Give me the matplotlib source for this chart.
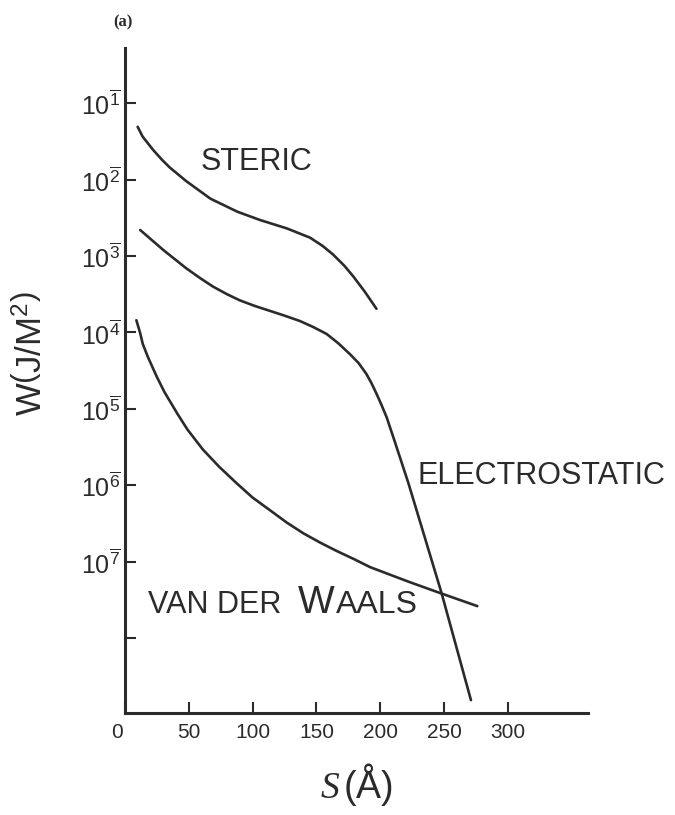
import matplotlib
matplotlib.use("Agg")
import matplotlib.pyplot as plt
import numpy as np

# values: separation S (angstrom) and log10 W (J/m^2)
steric_s = [10, 14, 22, 29, 35, 48, 67, 88, 106, 127, 145, 155, 163, 172, 179, 188, 197]
steric_logw = [-1.31, -1.44, -1.61, -1.74, -1.84, -2.02, -2.25, -2.42, -2.53, -2.64,
               -2.76, -2.87, -2.98, -3.13, -3.27, -3.47, -3.69]

electro_s = [12, 30, 48, 59, 69, 80, 90, 102, 114, 125, 137, 147, 158, 167, 176, 183,
             189, 193, 197, 201, 205, 211, 222, 248, 271]
electro_logw = [-2.66, -2.92, -3.16, -3.29, -3.40, -3.50, -3.58, -3.655, -3.72, -3.78,
                -3.85, -3.925, -4.02, -4.14, -4.28, -4.40, -4.54, -4.66, -4.80, -4.95,
                -5.11, -5.41, -5.97, -7.41, -8.81]

vdw_s = [9, 12, 14, 18, 25, 31, 41, 49, 61, 74, 88, 100, 114, 127, 140, 153, 166, 180,
         192, 222, 247, 276]
vdw_logw = [-3.84, -4.01, -4.15, -4.32, -4.58, -4.78, -5.06, -5.27, -5.53, -5.76, -5.98,
            -6.16, -6.33, -6.49, -6.63, -6.75, -6.86, -6.97, -7.07, -7.26, -7.41, -7.58]

x_ticks = [0, 50, 100, 150, 200, 250, 300]
y_exponents = [1, 2, 3, 4, 5, 6, 7, 8]
y_labels = ["1", "2", "3", "4", "5", "6", "7", ""]

ink = "#2b2b2b"

plt.rcParams["font.family"] = ["Liberation Sans", "DejaVu Sans"]
plt.rcParams["mathtext.fontset"] = "custom"
plt.rcParams["mathtext.rm"] = "Liberation Sans"
plt.rcParams["mathtext.it"] = "Liberation Serif:italic"

fig = plt.figure(figsize=(6.75, 8.15), dpi=100)
ax = fig.add_axes([0.185, 0.125, 0.686, 0.816])

for s, lw in [(steric_s, steric_logw), (electro_s, electro_logw), (vdw_s, vdw_logw)]:
    ax.plot(s, np.power(10.0, lw), color=ink, linewidth=1.9,
            solid_capstyle="round", solid_joinstyle="round")

ax.set_yscale("log")
ax.set_xlim(0, 362.6)
ax.set_ylim(10 ** -8.98, 10 ** -0.28)

for side in ["top", "right"]:
    ax.spines[side].set_visible(False)
for side in ["left", "bottom"]:
    ax.spines[side].set_linewidth(2.2)
    ax.spines[side].set_color(ink)

ax.set_xticks(x_ticks)
ax.set_xticklabels([str(t) for t in x_ticks], fontsize=15, color=ink)
ax.set_yticks([10.0 ** -e for e in y_exponents])
ax.set_yticklabels(["" if l == "" else r"$10^{\overline{%s}}$" % l for l in y_labels],
                   fontsize=18, color=ink)
ax.yaxis.set_minor_locator(matplotlib.ticker.NullLocator())
ax.tick_params(axis="both", direction="in", length=8, width=1.5, color=ink)
ax.tick_params(axis="x", pad=7)
ax.tick_params(axis="y", pad=3)

# "0" sits left of the axis corner in the original
lab0 = ax.get_xticklabels()[0]
lab0.set_transform(lab0.get_transform() + matplotlib.transforms.ScaledTranslation(-8 / 100, 0, fig.dpi_scale_trans))

ax.set_xlabel(r"$\mathit{S}\,$(Å)", fontsize=27, color=ink, labelpad=14)
ax.set_ylabel(r"W$\left(\mathrm{J/M^2}\right)$", fontsize=25, color=ink)
ax.yaxis.set_label_coords(-0.165, 0.54)

ax.text(103, 10 ** -1.77, "STERIC", fontsize=22, color=ink, ha="center", va="center")
ax.text(326, 10 ** -5.88, "ELECTROSTATIC", fontsize=22, color=ink, ha="center", va="center",
        clip_on=False)

# small-caps style label: big W between smaller capitals
t1 = ax.text(18, 10 ** -7.675, "VAN DER", fontsize=22, color=ink, va="baseline")
t2 = ax.annotate("W", xy=(1, 10 ** -7.675), xycoords=(t1, "data"), xytext=(12, 0),
                 textcoords="offset points", fontsize=28, color=ink, va="baseline", ha="left")
ax.annotate("AALS", xy=(1, 10 ** -7.675), xycoords=(t2, "data"), xytext=(1, 0),
            textcoords="offset points", fontsize=23, color=ink, va="baseline", ha="left")

fig.text(0.168, 0.968, "(a)", fontsize=12, fontweight="bold", family="Liberation Serif",
         color=ink)

fig.savefig("out.png", dpi=100, facecolor="white")
